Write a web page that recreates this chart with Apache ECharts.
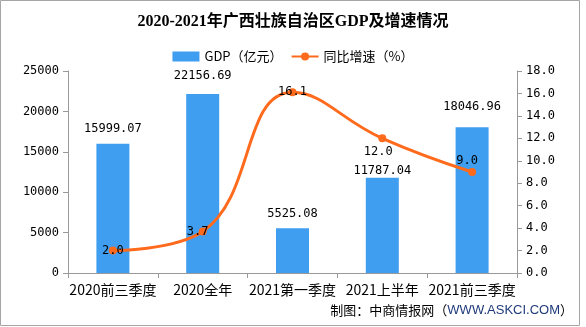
<!DOCTYPE html>
<html><head><meta charset="utf-8">
<script src="https://cdn.jsdelivr.net/npm/echarts@6/dist/echarts.min.js"></script>
<style>html,body{margin:0;padding:0;background:#fff}#c{width:586px;height:327px}</style>
</head><body><div id="c"></div>
<script>
var categories = ['2020前三季度', '2020全年', '2021第一季度', '2021上半年', '2021前三季度'];
var gdpValues = [15999.07, 22156.69, 5525.08, 11787.04, 18046.96];
var growthValues = [2.0, 3.7, 16.1, 12.0, 9.0];
var leftTicks = [0, 5000, 10000, 15000, 20000, 25000];
var rightTicks = [0, 2, 4, 6, 8, 10, 12, 14, 16, 18];

// label placement styling (not data)
var barLabelDist = [9, 12, 8, 1, 14];
var lineLabelStyle = [
  {position: 'inside', offset: [0, 0]},
  {position: 'inside', offset: [-5, 0]},
  {position: 'inside', offset: [0, 0]},
  {position: 'bottom', offset: [-4, 0]},
  {position: 'inside', offset: [-5, -11]}
];

var NUM = '"DejaVu Sans Mono", "Noto Sans CJK SC", monospace';
var CJK = '"Noto Sans CJK SC", sans-serif';

var chart = echarts.init(document.getElementById('c'), null, {renderer: 'canvas'});
chart.setOption({
  animation: false,
  backgroundColor: '#fff',
  title: {
    text: '2020-2021年广西壮族自治区GDP及增速情况',
    left: 'center', top: 9,
    textStyle: {fontFamily: '"Liberation Serif", "Noto Sans CJK SC", serif', fontWeight: 'bold', fontSize: 16, color: '#000'}
  },
  legend: {
    top: 45, left: 'center',
    itemWidth: 27, itemHeight: 10, itemGap: 8,
    textStyle: {fontFamily: CJK, fontSize: 13, color: '#000'},
    data: [
      {name: 'GDP（亿元）', icon: 'rect'},
      {name: '同比增速（%）'}
    ]
  },
  grid: {left: 68, right: 69, top: 71, bottom: 54},
  xAxis: {
    type: 'category', data: categories,
    axisLine: {lineStyle: {color: '#999'}},
    axisTick: {show: true, length: 5, lineStyle: {color: '#999'}},
    axisLabel: {color: '#000', fontFamily: CJK, fontSize: 14, margin: 10, interval: 0}
  },
  yAxis: [
    {
      type: 'value', min: leftTicks[0], max: leftTicks[leftTicks.length - 1], interval: leftTicks[1] - leftTicks[0],
      axisLine: {show: true, lineStyle: {color: '#999'}},
      axisTick: {show: true, length: 5, lineStyle: {color: '#999'}},
      splitLine: {show: false},
      axisLabel: {color: '#000', fontFamily: NUM, fontSize: 12, margin: 9, formatter: function (v) { return String(v); }}
    },
    {
      type: 'value', min: rightTicks[0], max: rightTicks[rightTicks.length - 1], interval: rightTicks[1] - rightTicks[0],
      position: 'right',
      axisLine: {show: true, lineStyle: {color: '#999'}},
      axisTick: {show: true, length: 5, lineStyle: {color: '#999'}},
      splitLine: {show: false},
      axisLabel: {color: '#000', fontFamily: NUM, fontSize: 12, margin: 9, formatter: function (v) { return v.toFixed(1); }}
    }
  ],
  series: [
    {
      name: 'GDP（亿元）', type: 'bar', yAxisIndex: 0, barWidth: 33,
      itemStyle: {color: '#3f9ef0'},
      data: gdpValues.map(function (v, i) {
        return {value: v, label: {distance: barLabelDist[i]}};
      }),
      label: {show: true, position: 'top', color: '#000', fontFamily: NUM, fontSize: 12,
        formatter: function (p) { return p.value.toFixed(2); }}
    },
    {
      name: '同比增速（%）', type: 'line', yAxisIndex: 1, smooth: 0.45,
      symbol: 'circle', symbolSize: 8,
      lineStyle: {color: '#ff6a1c', width: 3},
      itemStyle: {color: '#ff6a1c'},
      data: growthValues.map(function (v, i) {
        return {value: v, label: {position: lineLabelStyle[i].position, offset: lineLabelStyle[i].offset}};
      }),
      label: {show: true, color: '#000', fontFamily: NUM, fontSize: 12, distance: 4,
        formatter: function (p) { return p.value.toFixed(1); }},
      z: 5
    }
  ],
  graphic: [
    {type: 'rect', shape: {x: 0.5, y: 0.5, width: 579, height: 325}, style: {fill: 'none', stroke: '#a6a6a6', lineWidth: 1}, silent: true},
    {type: 'text', right: 13, top: 304,
      style: {
        text: '{a|制图：中商情报网（}{b|WWW.ASKCI.COM}{a|）}',
        rich: {
          a: {fontFamily: CJK, fontSize: 13, fill: '#000'},
          b: {fontFamily: '"Liberation Sans", sans-serif', fontSize: 13, fill: '#1f3a7a'}
        }
      }
    }
  ]
});
</script>
</body></html>
